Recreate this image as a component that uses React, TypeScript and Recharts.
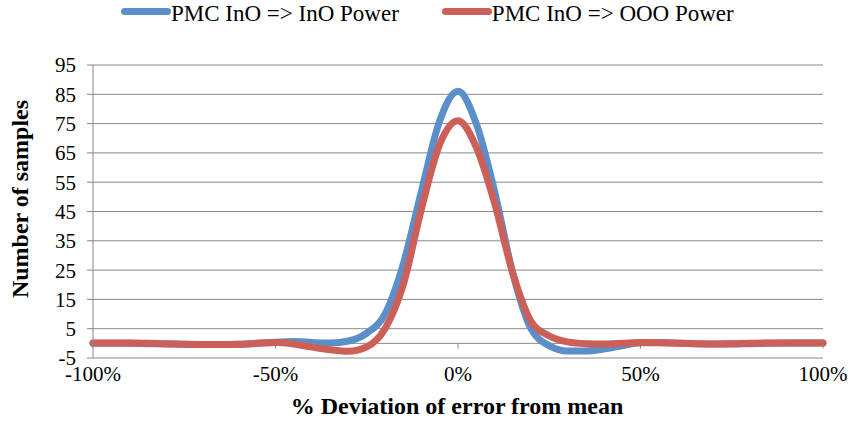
import { LineChart, Line, XAxis, YAxis, CartesianGrid, Legend, ReferenceLine } from 'recharts';

const X_VALUES = [
  -100, -95, -90, -85, -80, -75, -70, -65, -60, -55, -50, -45, -40, -35, -30, -25, -20, -15, -10, -5,
  0, 5, 10, 15, 20, 25, 30, 35, 40, 45, 50, 55, 60, 65, 70, 75, 80, 85, 90, 95, 100,
];
const INO_POWER = [
  0, 0, 0, -0.1, -0.2, -0.3, -0.4, -0.4, -0.3, 0, 0.4, 0.6, 0.3, 0.1, 0.8, 3.5, 10, 27, 52, 76,
  86, 75, 52, 24, 5, -0.8, -2.6, -2.6, -1.9, -0.8, 0.2, 0.3, 0.1, -0.1, -0.2, -0.2, -0.1, 0, 0.1, 0.1, 0.1,
];
const OOO_POWER = [
  0.1, 0.1, 0.1, 0, -0.1, -0.3, -0.4, -0.4, -0.3, 0, 0.3, -0.2, -1.3, -2.2, -2.7, -1.2, 5, 20, 46, 68,
  76, 67, 48, 24, 7.5, 2.5, 0.5, -0.1, -0.2, 0, 0.3, 0.2, 0, -0.1, -0.2, -0.1, 0, 0.1, 0.1, 0.1, 0.1,
];
const X_TICKS = [-100, -50, 0, 50, 100];
const Y_TICKS = [-5, 5, 15, 25, 35, 45, 55, 65, 75, 85, 95];

const SERIES = [
  { key: 'ino', name: 'PMC InO => InO Power', color: '#5b8fc9' },
  { key: 'ooo', name: 'PMC InO => OOO Power', color: '#cd5f59' },
];

const data = X_VALUES.map((x, i) => ({ x, ino: INO_POWER[i], ooo: OOO_POWER[i] }));

const FONT = 'Liberation Serif';
const GRID = '#888888';

function ChartLegend() {
  return (
    <div style={{ height: 65, width: 851, fontFamily: FONT, fontSize: 23 }}>
      <div style={{ display: 'flex', paddingTop: 2, paddingLeft: 121, lineHeight: '24px' }}>
        {SERIES.map((s, i) => (
          <div key={s.key} style={{ display: 'flex', alignItems: 'flex-start', marginLeft: i ? 43 : 0 }}>
            <span
              style={{
                display: 'inline-block',
                width: 50,
                height: 7,
                marginTop: 6,
                borderRadius: 4,
                background: s.color,
              }}
            />
            <span style={{ color: '#000' }}>{s.name}</span>
          </div>
        ))}
      </div>
    </div>
  );
}

const yLabel = () => (
  <text
    x={28}
    y={199}
    transform="rotate(-90, 28, 199)"
    textAnchor="middle"
    fontFamily={FONT}
    fontSize={24}
    fontWeight="bold"
    fill="#000"
  >
    Number of samples
  </text>
);

const xLabel = () => (
  <text x={457} y={414} textAnchor="middle" fontFamily={FONT} fontSize={24} fontWeight="bold" fill="#000">
    % Deviation of error from mean
  </text>
);

const TICK_STYLE = { fill: '#000', fontSize: 21, fontFamily: FONT };

export default function App() {
  return (
    <div style={{ position: 'absolute', left: 0, top: 0, background: '#fff' }}>
      <LineChart width={851} height={423} data={data} margin={{ top: 0, right: 28, bottom: 0, left: 0 }}>
        <Legend verticalAlign="top" content={<ChartLegend />} wrapperStyle={{ left: 0, top: 0, width: 851 }} />
        <CartesianGrid vertical={false} stroke={GRID} strokeWidth={1} />
        <XAxis
          dataKey="x"
          type="number"
          domain={[-100, 100]}
          ticks={X_TICKS}
          interval={0}
          tickFormatter={(v) => `${v}%`}
          axisLine={false}
          tickLine={false}
          tickSize={0}
          tickMargin={8}
          height={65}
          tick={TICK_STYLE}
          label={xLabel}
        />
        <YAxis
          type="number"
          domain={[-5, 95]}
          ticks={Y_TICKS}
          interval={0}
          width={93}
          axisLine={{ stroke: GRID }}
          tickLine={{ stroke: GRID }}
          tickSize={6}
          tickMargin={11}
          tick={TICK_STYLE}
          label={yLabel}
        />
        <ReferenceLine y={0} stroke={GRID} strokeWidth={1} />
        {X_TICKS.map((t) => (
          <ReferenceLine
            key={t}
            segment={[
              { x: t, y: 0 },
              { x: t, y: -1.8 },
            ]}
            stroke={GRID}
            strokeWidth={1}
          />
        ))}
        {SERIES.map((s) => (
          <Line
            key={s.key}
            type="monotone"
            dataKey={s.key}
            name={s.name}
            stroke={s.color}
            strokeWidth={7}
            strokeLinecap="round"
            dot={false}
            activeDot={false}
            isAnimationActive={false}
          />
        ))}
      </LineChart>
    </div>
  );
}
